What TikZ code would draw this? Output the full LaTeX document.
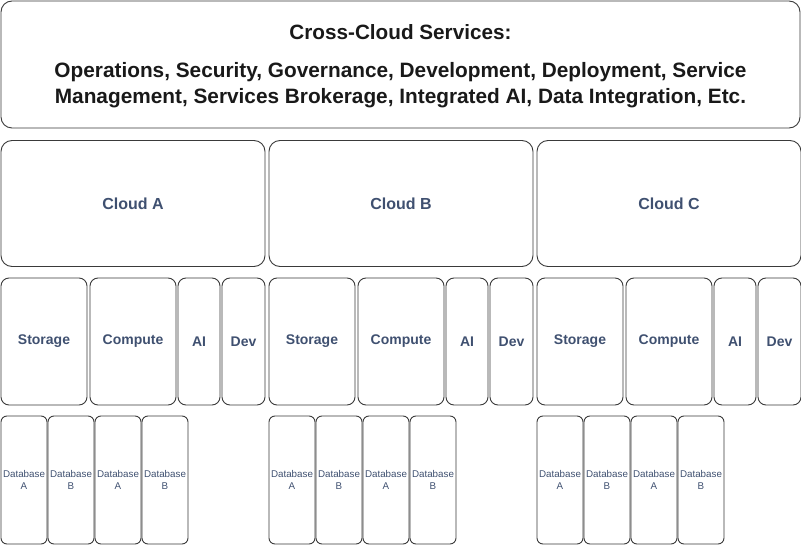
\documentclass[tikz,border=0pt]{standalone}
\usepackage{fontspec}
\setmainfont{Liberation Sans}
\usepackage{xcolor}
\usepackage{tikz}
\usetikzlibrary{positioning}

\definecolor{boxline}{HTML}{3A3A3A}
\definecolor{lblue}{HTML}{3F5070}

\begin{document}
\begin{tikzpicture}[x=1pt,y=-1pt,
        box/.style={draw=boxline,line width=0.9pt,rounded corners=11pt,
                    inner sep=0pt,align=center},
        cloud/.style={box,minimum width=264pt,minimum height=126pt,
                    font=\fontsize{16}{19}\selectfont\bfseries,text=lblue},
        svc/.style={box,rounded corners=8pt,minimum height=127pt,
                    font=\fontsize{14}{17}\selectfont\bfseries,text=lblue},
        db/.style={box,rounded corners=6pt,minimum width=46pt,minimum height=128pt,
                    font=\fontsize{9.8}{12.5}\selectfont,text=lblue}]
        \useasboundingbox (0,0) rectangle (801,545);
        % top layer
        \node[box,minimum width=799pt,minimum height=127pt] (cross) at (400.5,64.5) {};
        \node[font=\fontsize{20.7}{27}\selectfont\bfseries,text=black!90] (crossT) at (400.5,32) {Cross-Cloud Services:};
        \node[font=\fontsize{20.8}{26.5}\selectfont\bfseries,text=black!90,align=center] (crossL) at (400.5,85)
          {Operations, Security, Governance, Development, Deployment, Service\\
           Management, Services Brokerage, Integrated AI, Data Integration, Etc.};
        % clouds, services, databases
        \foreach \c/\ox in {A/0,B/268,C/536}{
          \node[cloud] (cloud\c) at (133+\ox,203.5) {Cloud \c};
          \node[svc,minimum width=86pt] (sto\c) at (44+\ox,341.5) {Storage};
          \node[svc,minimum width=86pt] (cmp\c) at (133+\ox,341.5) {Compute};
          \node[svc,minimum width=42pt] (ai\c) at (199+\ox,341.5) {AI};
          \node[svc,minimum width=43pt] (dev\c) at (243.5+\ox,341.5) {Dev};
          \foreach \k/\x/\d in {1/24/A,2/71/B,3/118/A,4/165/B}
            \node[db] (db\c\k) at (\x+\ox,480) {Database\\\d};
        }
      \end{tikzpicture}
\end{document}
